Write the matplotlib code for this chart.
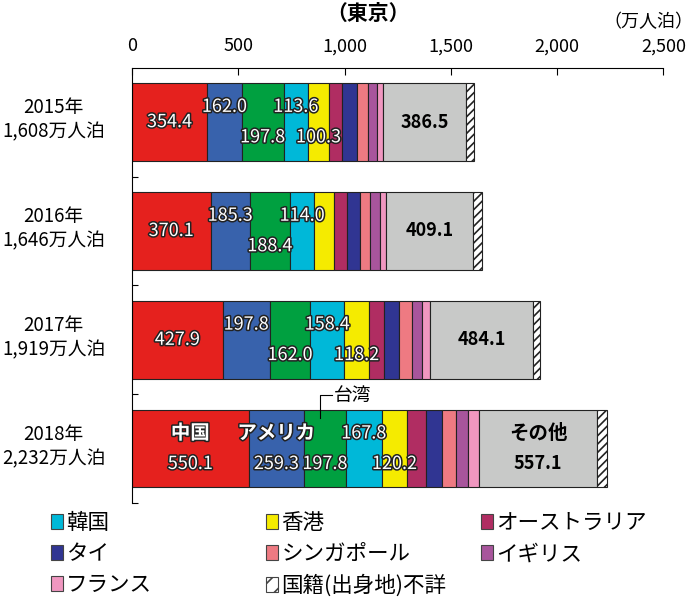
import numpy as np
import matplotlib.pyplot as plt
import matplotlib.patheffects as pe
from matplotlib.patches import Patch
import matplotlib.transforms as mtransforms

plt.rcParams['font.family'] = ['Noto Sans CJK JP', 'DejaVu Sans']
plt.rcParams['hatch.linewidth'] = 1.2

# --- data (万人泊) ---
years = ['2015年', '2016年', '2017年', '2018年']
totals = ['1,608万人泊', '1,646万人泊', '1,919万人泊', '2,232万人泊']

groups = ['中国', 'アメリカ', '台湾', '韓国', '香港', 'オーストラリア', 'タイ',
          'シンガポール', 'イギリス', 'フランス', 'その他', '国籍(出身地)不詳']
china = [354.4, 370.1, 427.9, 550.1]
usa = [162.0, 185.3, 220.0, 259.3]
taiwan = [197.8, 188.4, 192.0, 197.8]
korea = [113.6, 114.0, 158.4, 167.8]
hongkong = [100.3, 94.0, 118.2, 120.2]
australia = [58, 58, 70, 86]
thailand = [72, 62, 68, 75]
singapore = [52, 50, 61, 66]
uk = [42, 44, 47, 58]
france = [31, 31, 39, 52]
other = [386.5, 409.1, 484.1, 557.1]
unknown = [38.6, 40, 34, 43]

colors = ['#E5211E', '#3862AC', '#00A040', '#00B8D8', '#F5EB00', '#B02D62',
          '#303592', '#EE7A82', '#A8559C', '#F097C0', '#C8C9C8', 'white']

# labels shown inside the bars: (year, segment, text, row)  row: 0 mid, -1 upper, 1 lower
bar_labels = [
    (0, 0, '354.4', 0), (0, 1, '162.0', -1), (0, 2, '197.8', 1),
    (0, 3, '113.6', -1), (0, 4, '100.3', 1), (0, 10, '386.5', 0),
    (1, 0, '370.1', 0), (1, 1, '185.3', -1), (1, 2, '188.4', 1),
    (1, 3, '114.0', -1), (1, 10, '409.1', 0),
    (2, 0, '427.9', 0), (2, 1, '197.8', -1), (2, 2, '162.0', 1),
    (2, 3, '158.4', -1), (2, 4, '118.2', 1), (2, 10, '484.1', 0),
    (3, 0, '中国', -1), (3, 0, '550.1', 1), (3, 1, 'アメリカ', -1),
    (3, 1, '259.3', 1), (3, 2, '197.8', 1), (3, 3, '167.8', -1),
    (3, 4, '120.2', 1), (3, 10, 'その他', -1), (3, 10, '557.1', 1),
]

series = [china, usa, taiwan, korea, hongkong, australia, thailand,
          singapore, uk, france, other, unknown]
data = np.array(series)
y = np.arange(len(years))

fig = plt.figure(figsize=(6.94, 5.99), dpi=100)
ax = fig.add_axes([0.190, 0.160, 0.766, 0.727])

left = np.zeros(len(years))
for vals, col, name in zip(data, colors, groups):
    ax.barh(y, vals, left=left, height=0.71, color=col, edgecolor='#222222',
            linewidth=0.8, hatch='////' if name.startswith('国籍') else None,
            label=name)
    left += vals

starts = np.vstack([np.zeros(len(years)), np.cumsum(data, axis=0)[:-1]])
outline = [pe.withStroke(linewidth=2.2, foreground='#222222')]
for yi, si, txt, row in bar_labels:
    xc = starts[si, yi] + data[si, yi] / 2
    yc = yi + row * 0.14
    is_num = txt[0].isdigit()
    if si == 10:
        ax.text(xc, yc, txt, ha='center', va='center',
                fontsize=13 if is_num else 14, fontweight='bold', color='black')
    else:
        ax.text(xc, yc, txt, ha='center', va='center',
                fontsize=13 if is_num else 14, color='white',
                fontweight='normal' if is_num else 'bold',
                path_effects=outline)

# 台湾 callout on the 2018 bar
tw_x = starts[2, 3] + data[2, 3] * 0.38
ax.plot([tw_x, tw_x, tw_x + 55], [3 - 0.28, 3 - 0.49, 3 - 0.49], color='black',
        lw=0.8, clip_on=False)
ax.text(tw_x + 65, 3 - 0.49, '台湾', ha='left', va='center', fontsize=13.5)

# category labels at the left
trans = mtransforms.blended_transform_factory(ax.transAxes, ax.transData)
for yi, (yr, tot) in enumerate(zip(years, totals)):
    ax.text(-0.147, yi - 0.02, yr + '\n' + tot, transform=trans, ha='center',
            va='center', fontsize=13.5, linespacing=1.2)

ax.set_xlim(0, 2500)
ax.set_ylim(3.5, -0.5)
ax.xaxis.tick_top()
ax.set_xticks(np.arange(0, 2501, 500))
ax.set_xticklabels(['0', '500', '1,000', '1,500', '2,000', '2,500'])
ax.tick_params(axis='x', direction='in', length=5, labelsize=13, pad=9)
ax.set_yticks([0.5, 1.5, 2.5, 3.5])
ax.set_yticklabels([])
ax.tick_params(axis='y', direction='in', length=4)
ax.spines['right'].set_visible(False)
ax.spines['bottom'].set_visible(False)

fig.text(0.53, 0.978, '（東京）', ha='center', va='center', fontsize=15,
         fontweight='bold')
fig.text(0.999, 0.963, '（万人泊）', ha='right', va='center', fontsize=13)

# legend, one column at a time
handles = {name: Patch(facecolor=col, edgecolor='#444444', linewidth=0.8,
                       hatch='//' if name.startswith('国籍') else None)
           for name, col in zip(groups, colors)}
columns = [(0.073, ['韓国', 'タイ', 'フランス']),
           (0.384, ['香港', 'シンガポール', '国籍(出身地)不詳']),
           (0.693, ['オーストラリア', 'イギリス'])]
for xpos, names in columns:
    fig.legend([handles[n] for n in names], names, loc='upper left',
               bbox_to_anchor=(xpos, 0.145), frameon=False, fontsize=15.5,
               handlelength=0.55, handleheight=0.7, handletextpad=0.15,
               borderpad=0, borderaxespad=0, labelspacing=0.42)

fig.savefig('out.png', dpi=100)
